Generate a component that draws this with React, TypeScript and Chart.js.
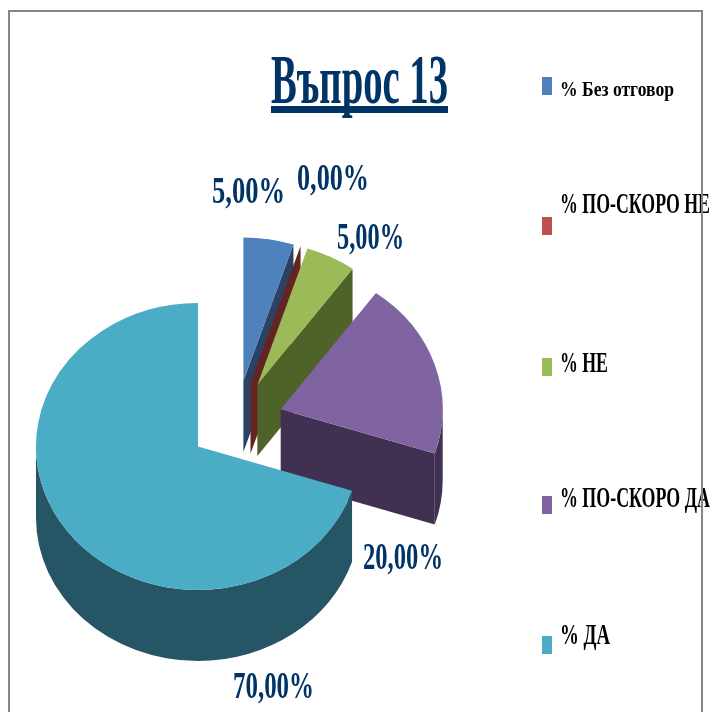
import React, { useEffect, useRef } from "react";
import { Chart, registerables } from "chart.js";

Chart.register(...registerables);

const categories = ["% Без отговор", "% ПО-СКОРО НЕ", "% НЕ", "% ПО-СКОРО ДА", "% ДА"];
const values = [5, 0, 5, 20, 70];
const topColors = ["#4f81bd", "#c0504d", "#9bbb59", "#8064a2", "#4bacc6"];
const wallColors = ["#2a4365", "#632523", "#4f6228", "#403152", "#265666"];
const chartTitle = "Въпрос 13";

const NAVY = "#003366";
const SERIF = '"Liberation Serif", serif';
const RADIUS = 162;
const EXPLODE = 47;
const SQUASH = 143.5 / 162;
const DEPTH = 71;
const CENTER_Y = 422;

// left x, baseline y, width, font px of each percentage label
const valueLabelBoxes = [
  [212, 203, 73, 38],
  [297, 190, 72, 38],
  [337, 249, 67, 38],
  [363, 569, 80, 38],
  [233, 698, 81, 38],
];
// swatch top y, text baseline y, text width, font px of each legend row
const legendRows = [
  [77, 96, 114, 22],
  [217, 213, 150, 30],
  [358, 372, 48, 30],
  [496, 507, 150, 30],
  [636, 644, 50, 30],
];

function fitText(ctx: CanvasRenderingContext2D, text: string, x: number, y: number, width: number, px: number, color: string) {
  ctx.save();
  ctx.font = `bold ${px}px ${SERIF}`;
  ctx.fillStyle = color;
  ctx.textAlign = "left";
  ctx.textBaseline = "alphabetic";
  const measured = ctx.measureText(text).width;
  ctx.translate(x, y);
  ctx.scale(width / measured, 1);
  ctx.fillText(text, 0, 0);
  ctx.restore();
}

const pie3d = {
  id: "pie3d",
  beforeDatasetsDraw(chart: any) {
    const ctx: CanvasRenderingContext2D = chart.ctx;
    const arcs = chart.getDatasetMeta(0).data;
    arcs.forEach((arc: any, i: number) => {
      const mid = (arc.startAngle + arc.endAngle) / 2;
      // explode each slice by moving its drawing outward along its mid angle
      if (!arc.__exploded) {
        const drawArc = arc.draw;
        arc.draw = function (c: CanvasRenderingContext2D, area: any) {
          c.save();
          c.translate(Math.cos(mid) * EXPLODE, Math.sin(mid) * EXPLODE);
          drawArc.call(this, c, area);
          c.restore();
        };
        arc.__exploded = true;
      }
      const ax = arc.x + Math.cos(mid) * EXPLODE;
      const ay = CENTER_Y + Math.sin(mid) * EXPLODE * SQUASH;
      const ry = RADIUS * SQUASH;
      ctx.save();
      ctx.fillStyle = wallColors[i];
      const edge = (t: number) => {
        ctx.beginPath();
        ctx.moveTo(ax, ay);
        ctx.lineTo(ax + RADIUS * Math.cos(t), ay + ry * Math.sin(t));
        ctx.lineTo(ax + RADIUS * Math.cos(t), ay + ry * Math.sin(t) + DEPTH);
        ctx.lineTo(ax, ay + DEPTH);
        ctx.closePath();
        ctx.fill();
      };
      if (Math.cos(arc.endAngle) > 1e-6) edge(arc.endAngle);
      if (Math.cos(arc.startAngle) < -1e-6) edge(arc.startAngle);
      const a0 = Math.max(arc.startAngle, 0);
      const a1 = Math.min(arc.endAngle, Math.PI);
      if (a1 > a0) {
        ctx.beginPath();
        ctx.ellipse(ax, ay, RADIUS, ry, 0, a0, a1);
        ctx.ellipse(ax, ay + DEPTH, RADIUS, ry, 0, a1, a0, true);
        ctx.closePath();
        ctx.fill();
      }
      ctx.restore();
    });
    const cy = arcs[0].y;
    ctx.save();
    ctx.translate(0, CENTER_Y);
    ctx.scale(1, SQUASH);
    ctx.translate(0, -cy);
  },
  afterDatasetsDraw(chart: any) {
    chart.ctx.restore();
  },
  afterDraw(chart: any) {
    const ctx: CanvasRenderingContext2D = chart.ctx;
    // title
    fitText(ctx, chartTitle, 271, 103, 177, 70, NAVY);
    ctx.fillStyle = NAVY;
    ctx.fillRect(271, 106, 177, 7);
    // value labels
    values.forEach((v, i) => {
      const [x, y, w, px] = valueLabelBoxes[i];
      fitText(ctx, v.toFixed(2).replace(".", ",") + "%", x, y, w, px, NAVY);
    });
    // legend
    categories.forEach((c, i) => {
      const [top, base, w, px] = legendRows[i];
      ctx.fillStyle = topColors[i];
      ctx.fillRect(542, top, 10, 18);
      fitText(ctx, c, 560, base, w, px, "#000000");
    });
    // frame
    ctx.strokeStyle = "#868686";
    ctx.lineWidth = 2;
    ctx.beginPath();
    ctx.moveTo(9, 712);
    ctx.lineTo(9, 11);
    ctx.lineTo(702, 11);
    ctx.lineTo(702, 712);
    ctx.stroke();
  },
};

export default function App() {
  const ref = useRef<HTMLCanvasElement>(null);
  useEffect(() => {
    const chart = new Chart(ref.current as HTMLCanvasElement, {
      type: "pie",
      data: {
        labels: categories,
        datasets: [
          {
            data: values,
            backgroundColor: topColors,
            borderWidth: 0,
            radius: RADIUS,
            clip: false,
          } as any,
        ],
      },
      options: {
        responsive: false,
        animation: false,
        events: [],
        layout: { padding: { right: 240 } },
        plugins: { legend: { display: false }, title: { display: false }, tooltip: { enabled: false } },
      },
      plugins: [pie3d],
    });
    return () => chart.destroy();
  }, []);
  return (
    <canvas
      ref={ref}
      width={712}
      height={712}
      style={{ position: "absolute", left: 0, top: 0, width: 712, height: 712, display: "block", background: "#fff" }}
    />
  );
}
